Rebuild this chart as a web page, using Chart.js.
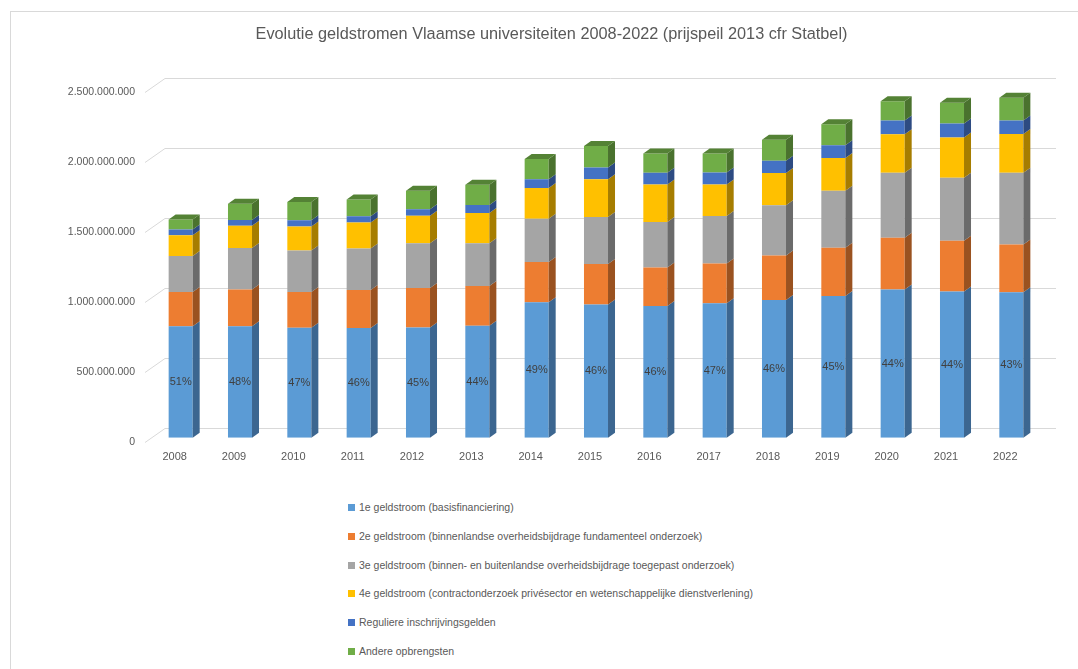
<!DOCTYPE html>
<html lang="nl">
<head>
<meta charset="UTF-8">
<title>Evolutie geldstromen Vlaamse universiteiten</title>
<script src="https://cdn.jsdelivr.net/npm/chart.js"></script>
<style>
  body { margin: 0; background: #fff; font-family: "Liberation Sans", Arial, sans-serif; }
  #wrap { position: relative; width: 1078px; height: 669px; overflow: hidden; }
  #frame { position: absolute; left: 10px; top: 11px; width: 1100px; height: 700px;
           border-top: 1px solid #d9d9d9; border-left: 1px solid #d9d9d9; }
  canvas { position: absolute; left: 0; top: 0; }
  #titel { position: absolute; left: 0; width: 1103px; top: 23px; text-align: center;
           font-size: 16.3px; color: #595959; line-height: 20px; }
  #legend { position: absolute; left: 348px; top: 501px; font-size: 10.5px; color: #595959; }
  #legend div { height: 28.8px; display: flex; align-items: flex-start; white-space: nowrap; }
  #legend span.box { display: inline-block; width: 7px; height: 7px; margin: 3px 4px 0 0; }
</style>
</head>
<body>
<div id="wrap">
  <div id="frame"></div>
  <canvas id="geldChart" width="1078" height="489"></canvas>
  <div id="titel">Evolutie geldstromen Vlaamse universiteiten 2008-2022 (prijspeil 2013 cfr Statbel)</div>
  <div id="legend"></div>
</div>

<script>
// jaren en geldstromen (euro, prijspeil 2013)
const jaren = ['2008','2009','2010','2011','2012','2013','2014','2015','2016','2017','2018','2019','2020','2021','2022'];

const geldstroom1 = [798e6, 798e6, 787e6, 784e6, 789e6, 801e6, 968e6, 952e6, 942e6, 961e6, 985e6, 1014e6, 1060e6, 1045e6, 1040e6];
const geldstroom2 = [244e6, 261e6, 255e6, 272e6, 282e6, 284e6, 289e6, 291e6, 275e6, 285e6, 318e6, 344e6, 370e6, 363e6, 342e6];
const geldstroom3 = [258e6, 298e6, 297e6, 297e6, 320e6, 306e6, 308e6, 335e6, 325e6, 339e6, 359e6, 407e6, 464e6, 450e6, 512e6];
const geldstroom4 = [148e6, 158e6, 172e6, 186e6, 196e6, 215e6, 220e6, 270e6, 268e6, 225e6, 230e6, 235e6, 275e6, 289e6, 278e6];
const inschrijvingsgelden = [41e6, 41e6, 43e6, 45e6, 46e6, 57e6, 62e6, 83e6, 84e6, 86e6, 88e6, 90e6, 98e6, 100e6, 95e6];
const andere = [72e6, 117e6, 131e6, 120e6, 133e6, 146e6, 146e6, 154e6, 138e6, 136e6, 151e6, 151e6, 138e6, 148e6, 163e6];

// aandeel 1e geldstroom zoals in de grafiek
const aandeelLabels = ['51%','48%','47%','46%','45%','44%','49%','46%','46%','47%','46%','45%','44%','44%','43%'];

const reeksNamen = [
  '1e geldstroom (basisfinanciering)',
  '2e geldstroom (binnenlandse overheidsbijdrage fundamenteel onderzoek)',
  '3e geldstroom (binnen- en buitenlandse overheidsbijdrage toegepast onderzoek)',
  '4e geldstroom (contractonderzoek privésector en wetenschappelijke dienstverlening)',
  'Reguliere inschrijvingsgelden',
  'Andere opbrengsten'
];
const kleuren = ['#5b9bd5', '#ed7d31', '#a5a5a5', '#ffc000', '#4472c4', '#70ad47'];
const zijKleuren = ['#3c6690', '#9a5220', '#6b6b6b', '#a67d00', '#2d4b82', '#4a722e'];
const topKleur = '#548235';

const reeksen = [geldstroom1, geldstroom2, geldstroom3, geldstroom4, inschrijvingsgelden, andere];

const DX = 7, DY = 5, WAND = 10;

// achterwand-rasterlijnen met schuine voorkant
const rasterPlugin = {
  id: 'raster',
  beforeDatasetsDraw(chart) {
    const { ctx, chartArea, scales: { y } } = chart;
    ctx.save();
    ctx.strokeStyle = '#d9d9d9';
    ctx.lineWidth = 1;
    y.ticks.forEach(t => {
      const py = Math.round(y.getPixelForValue(t.value)) + 0.5;
      ctx.beginPath();
      ctx.moveTo(chartArea.left - 6, py + 4);
      ctx.lineTo(chartArea.left + 14, py - WAND);
      ctx.lineTo(chartArea.right + 15, py - WAND);
      ctx.stroke();
    });
    ctx.restore();
  }
};

// zij- en bovenvlakken voor het 3D-effect + percentages
const blokPlugin = {
  id: 'blok',
  afterDatasetsDraw(chart) {
    const ctx = chart.ctx;
    ctx.save();
    const n = chart.data.datasets.length;
    chart.data.datasets.forEach((ds, di) => {
      const meta = chart.getDatasetMeta(di);
      meta.data.forEach(bar => {
        const p = bar.getProps(['x', 'y', 'base', 'width'], true);
        const x2 = p.x + p.width / 2;
        const x1 = p.x - p.width / 2;
        const top = Math.min(p.y, p.base), bot = Math.max(p.y, p.base);
        ctx.fillStyle = zijKleuren[di];
        ctx.beginPath();
        ctx.moveTo(x2, bot);
        ctx.lineTo(x2, top);
        ctx.lineTo(x2 + DX, top - DY);
        ctx.lineTo(x2 + DX, bot - DY);
        ctx.closePath();
        ctx.fill();
        if (di === n - 1) {
          ctx.fillStyle = topKleur;
          ctx.beginPath();
          ctx.moveTo(x1, top);
          ctx.lineTo(x1 + DX, top - DY);
          ctx.lineTo(x2 + DX, top - DY);
          ctx.lineTo(x2, top);
          ctx.closePath();
          ctx.fill();
        }
      });
    });
    // percentages in de eerste geldstroom
    const meta0 = chart.getDatasetMeta(0);
    ctx.fillStyle = '#404040';
    ctx.font = '11px "Liberation Sans", Arial, sans-serif';
    ctx.textAlign = 'center';
    ctx.textBaseline = 'middle';
    meta0.data.forEach((bar, i) => {
      const p = bar.getProps(['x', 'y', 'base'], true);
      ctx.fillText(aandeelLabels[i], p.x, (p.y + p.base) / 2);
    });
    ctx.restore();
  }
};

const datasets = reeksen.map((waarden, i) => ({
  label: reeksNamen[i],
  data: waarden,
  backgroundColor: kleuren[i],
  borderWidth: 0,
  categoryPercentage: 1,
  barPercentage: 0.405
}));

const chart = new Chart(document.getElementById('geldChart'), {
  type: 'bar',
  data: { labels: jaren, datasets: datasets },
  plugins: [rasterPlugin, blokPlugin],
  options: {
    responsive: false,
    animation: false,
    layout: { padding: { left: 0, right: 37, top: 88, bottom: 12 } },
    plugins: {
      legend: { display: false },
      tooltip: { enabled: false },
      title: { display: false }
    },
    scales: {
      x: {
        stacked: true,
        grid: { display: false, drawTicks: false },
        border: { display: false },
        ticks: {
          color: '#595959',
          font: { family: '"Liberation Sans", Arial, sans-serif', size: 11 },
          padding: 13,
          labelOffset: -6,
          maxRotation: 0
        }
      },
      y: {
        stacked: true,
        min: 0,
        max: 2500000000,
        grid: { display: false, drawTicks: false },
        border: { display: false },
        afterFit(scale) { scale.width = 151; },
        ticks: {
          stepSize: 500000000,
          color: '#595959',
          font: { family: '"Liberation Sans", Arial, sans-serif', size: 10.5 },
          padding: 16,
          labelOffset: 4,
          callback: v => v.toLocaleString('nl-BE')
        }
      }
    }
  }
});

// legenda als verticale lijst
const legend = document.getElementById('legend');
chart.data.datasets.forEach(ds => {
  const rij = document.createElement('div');
  const box = document.createElement('span');
  box.className = 'box';
  box.style.background = ds.backgroundColor;
  rij.appendChild(box);
  rij.appendChild(document.createTextNode(ds.label));
  legend.appendChild(rij);
});
</script>
</body>
</html>
